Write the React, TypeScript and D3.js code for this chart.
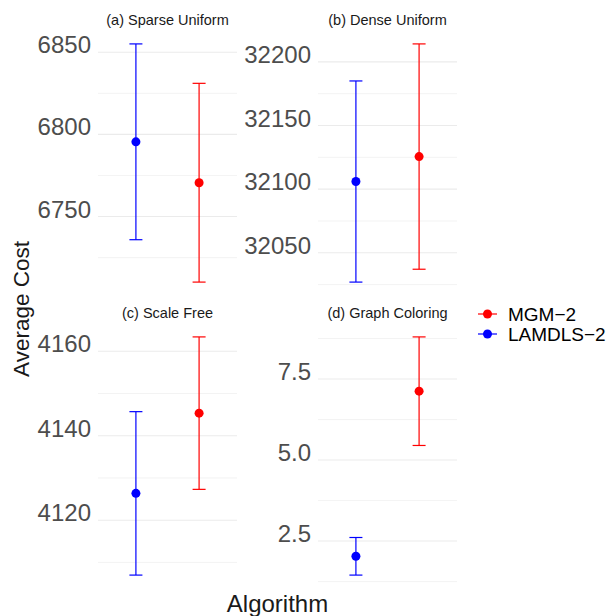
import React from 'react';
import * as d3 from 'd3';

// facet titles and per-panel values
const panelTitles = ["(a) Sparse Uniform", "(b) Dense Uniform", "(c) Scale Free", "(d) Graph Coloring"];
const algorithms = ["LAMDLS-2", "MGM-2"];
const lamdlsMean = [6795.5, 32106, 4126.35, 2.03];
const lamdlsErr = [59.6, 79, 19.35, 0.58];
const mgmMean = [6770.6, 32125.6, 4145.35, 7.125];
const mgmErr = [60.5, 88.5, 18.05, 1.675];
const panelTicks = [
    [6750, 6800, 6850],
    [32050, 32100, 32150, 32200],
    [4120, 4140, 4160],
    [2.5, 5.0, 7.5],
];
const legendLabels = ["MGM\u22122", "LAMDLS\u22122"];

const colors = { "LAMDLS-2": "#0000FF", "MGM-2": "#FF0000" };
const font = "'Liberation Sans', Arial, Helvetica, sans-serif";

const W = 609, H = 616;
const colX = [98, 318];
const rowY = [32, 325];
const panelW = 139, panelH = 262;

function Panel({ i }: { i: number }) {
    const x0 = colX[i % 2];
    const y0 = rowY[Math.floor(i / 2)];
    const points = [
        { alg: "LAMDLS-2", mean: lamdlsMean[i], err: lamdlsErr[i] },
        { alg: "MGM-2", mean: mgmMean[i], err: mgmErr[i] },
    ];
    const lo = d3.min(points, d => d.mean - d.err)!;
    const hi = d3.max(points, d => d.mean + d.err)!;
    const pad = (hi - lo) * 0.05;
    const y = d3.scaleLinear().domain([lo - pad, hi + pad]).range([y0 + panelH, y0]);
    // discrete axis with ggplot's 0.6 expansion
    const x = d3.scaleLinear().domain([0.4, 2.6]).range([x0, x0 + panelW]);
    const xPos = (alg: string) => x(algorithms.indexOf(alg) + 1);

    const ticks = panelTicks[i];
    const step = (ticks[1] - ticks[0]) / 2;
    const [dMin, dMax] = y.domain();
    const minors = d3.range(Math.ceil(dMin / step), Math.floor(dMax / step) + 1)
        .map(k => k * step)
        .filter(v => !ticks.some(t => Math.abs(t - v) < step * 1e-6));
    const fmt = i === 3 ? d3.format(".1f") : d3.format("d");

    return (
        <g>
            {minors.map(v => (
                <line key={"m" + v} x1={x0} x2={x0 + panelW} y1={y(v)} y2={y(v)} stroke="#EBEBEB" strokeWidth={0.6} />
            ))}
            {ticks.map(v => (
                <line key={"M" + v} x1={x0} x2={x0 + panelW} y1={y(v)} y2={y(v)} stroke="#EBEBEB" strokeWidth={1.1} />
            ))}
            {ticks.map(v => (
                <text key={"t" + v} x={x0 - 7} y={y(v) + 1} textAnchor="end" fontSize={24} fill="#4D4D4D" fontFamily={font}>{fmt(v)}</text>
            ))}
            <text x={x0 + panelW / 2} y={y0 - 7} textAnchor="middle" fontSize={14.5} fill="#1A1A1A" fontFamily={font}>{panelTitles[i]}</text>
            {points.map(p => {
                const cx = xPos(p.alg);
                const c = colors[p.alg as keyof typeof colors];
                return (
                    <g key={p.alg}>
                        <line x1={cx} x2={cx} y1={y(p.mean - p.err)} y2={y(p.mean + p.err)} stroke={c} strokeWidth={1.2} />
                        <line x1={cx - 6.5} x2={cx + 6.5} y1={y(p.mean - p.err)} y2={y(p.mean - p.err)} stroke={c} strokeWidth={1.2} />
                        <line x1={cx - 6.5} x2={cx + 6.5} y1={y(p.mean + p.err)} y2={y(p.mean + p.err)} stroke={c} strokeWidth={1.2} />
                        <circle cx={cx} cy={y(p.mean)} r={4.5} fill={c} />
                    </g>
                );
            })}
        </g>
    );
}

export default function App() {
    const legendColors = [colors["MGM-2"], colors["LAMDLS-2"]];
    return (
        <svg width={W} height={H} style={{ position: "absolute", left: 0, top: 0, background: "#fff" }}>
            {panelTitles.map((_, i) => <Panel key={i} i={i} />)}
            <text transform="translate(29,309) rotate(-90)" textAnchor="middle" fontSize={22.5} fill="#1A1A1A" fontFamily={font}>Average Cost</text>
            <text x={277.5} y={612} textAnchor="middle" fontSize={24} fill="#1A1A1A" fontFamily={font}>Algorithm</text>
            {legendLabels.map((lab, j) => (
                <g key={lab} transform={`translate(0,${314 + j * 20})`}>
                    <line x1={478} x2={497} y1={0} y2={0} stroke={legendColors[j]} strokeWidth={1.2} />
                    <circle cx={487.5} cy={0} r={4.5} fill={legendColors[j]} />
                    <text x={508} y={7} fontSize={19} fill="#000" fontFamily={font}>{lab}</text>
                </g>
            ))}
        </svg>
    );
}
